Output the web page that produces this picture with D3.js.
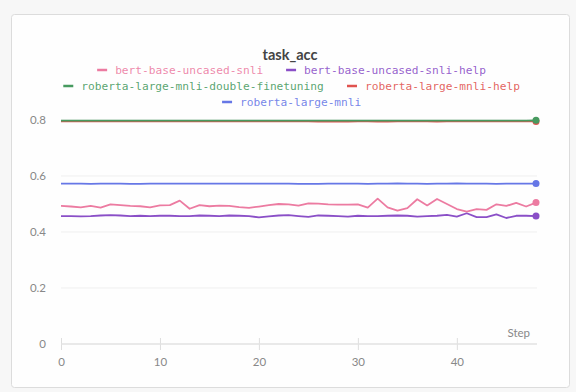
<!DOCTYPE html>
<html>
<head>
<meta charset="utf-8">
<script src="https://cdn.jsdelivr.net/npm/d3@7"></script>
<style>
  html, body { margin: 0; padding: 0; background: #f7f7f7; }
  svg { display: block; }
</style>
</head>
<body>
<svg id="chart"></svg>
<script>
// values, one per step (0..48)
const steps = d3.range(0, 49);

const bertSnli = [
  0.493, 0.491, 0.488, 0.493, 0.487, 0.499, 0.496, 0.493, 0.492, 0.488,
  0.495, 0.496, 0.512, 0.483, 0.496, 0.492, 0.494, 0.493, 0.489, 0.486,
  0.491, 0.496, 0.500, 0.499, 0.494, 0.502, 0.501, 0.499, 0.498, 0.498,
  0.499, 0.487, 0.519, 0.488, 0.476, 0.485, 0.517, 0.495, 0.518, 0.500,
  0.482, 0.473, 0.482, 0.479, 0.499, 0.493, 0.504, 0.491, 0.505
];

const bertSnliHelp = [
  0.457, 0.457, 0.456, 0.457, 0.459, 0.460, 0.459, 0.457, 0.458, 0.457,
  0.458, 0.458, 0.457, 0.457, 0.459, 0.458, 0.457, 0.459, 0.458, 0.457,
  0.452, 0.456, 0.459, 0.460, 0.457, 0.454, 0.459, 0.458, 0.457, 0.455,
  0.458, 0.457, 0.457, 0.458, 0.459, 0.458, 0.455, 0.457, 0.458, 0.461,
  0.455, 0.467, 0.453, 0.453, 0.463, 0.450, 0.458, 0.458, 0.457
];

const robertaDouble = [
  0.798, 0.798, 0.798, 0.798, 0.798, 0.798, 0.798, 0.798, 0.798, 0.798,
  0.798, 0.798, 0.798, 0.798, 0.798, 0.798, 0.798, 0.798, 0.798, 0.798,
  0.798, 0.798, 0.798, 0.798, 0.798, 0.798, 0.798, 0.798, 0.798, 0.798,
  0.798, 0.798, 0.798, 0.798, 0.798, 0.798, 0.798, 0.798, 0.798, 0.798,
  0.798, 0.798, 0.798, 0.798, 0.798, 0.798, 0.798, 0.798, 0.799
];

const robertaHelp = [
  0.795, 0.795, 0.795, 0.795, 0.795, 0.795, 0.795, 0.795, 0.795, 0.795,
  0.795, 0.795, 0.795, 0.795, 0.795, 0.795, 0.795, 0.795, 0.795, 0.795,
  0.795, 0.795, 0.795, 0.795, 0.795, 0.795, 0.794, 0.795, 0.794, 0.794,
  0.795, 0.795, 0.794, 0.794, 0.795, 0.795, 0.795, 0.795, 0.794, 0.795,
  0.795, 0.795, 0.795, 0.795, 0.795, 0.795, 0.795, 0.795, 0.795
];

const robertaMnli = [
  0.573, 0.573, 0.573, 0.572, 0.573, 0.573, 0.573, 0.572, 0.572, 0.573,
  0.573, 0.573, 0.573, 0.573, 0.573, 0.573, 0.573, 0.573, 0.573, 0.573,
  0.573, 0.573, 0.573, 0.573, 0.572, 0.572, 0.572, 0.573, 0.573, 0.573,
  0.573, 0.572, 0.573, 0.573, 0.574, 0.573, 0.573, 0.572, 0.573, 0.573,
  0.574, 0.573, 0.573, 0.573, 0.572, 0.573, 0.573, 0.573, 0.573
];

const seriesNames = [
  "bert-base-uncased-snli",
  "bert-base-uncased-snli-help",
  "roberta-large-mnli-double-finetuning",
  "roberta-large-mnli-help",
  "roberta-large-mnli"
];
const seriesValues = [bertSnli, bertSnliHelp, robertaDouble, robertaHelp, robertaMnli];
const seriesColors = ["#ec7ba1", "#8a4fc7", "#479a5f", "#e0534f", "#6677e6"];

const yTicks = [0, 0.2, 0.4, 0.6, 0.8];
const xTicks = [0, 10, 20, 30, 40];

const width = 576, height = 392;

const svg = d3.select('#chart')
    .attr('width', width)
    .attr('height', height);

// card
svg.append('rect')
    .attr('x', 11.5).attr('y', 14.5)
    .attr('width', 558).attr('height', 373)
    .attr('rx', 3)
    .style('fill', '#fefefe')
    .style('stroke', '#dcdcdc');

svg.append('text')
    .attr('x', 290).attr('y', 60)
    .attr('text-anchor', 'middle')
    .style('font-family', 'Lato, "Open Sans", sans-serif')
    .style('font-weight', 'bold')
    .style('font-size', '14.5px')
    .style('fill', '#444')
    .text('task_acc');

let x = d3.scaleLinear().domain([0, 48]).range([61, 536]);
let y = d3.scaleLinear().domain([0, 0.8]).range([344, 120]);

// grid
svg.selectAll('line.grid')
    .data(yTicks.filter(d => d > 0))
  .enter().append('line')
    .attr('class', 'grid')
    .attr('x1', 61).attr('x2', 537)
    .attr('y1', d => y(d)).attr('y2', d => y(d))
    .style('stroke', '#efefef')
    .style('stroke-width', '1px');

// y axis labels
let yAxis = d3.axisLeft(y)
    .tickValues(yTicks)
    .tickFormat(d => d === 0 ? '0' : d3.format('.1f')(d))
    .tickSize(0)
    .tickPadding(0);

let gy = svg.append('g')
    .attr('transform', 'translate(46,0)')
    .call(yAxis);
gy.select('.domain').remove();
gy.selectAll('text')
    .style('font-family', 'Lato, "Open Sans", sans-serif')
    .style('font-size', '11.5px')
    .style('fill', '#888');

// x axis
let xAxis = d3.axisBottom(x)
    .tickValues(xTicks)
    .tickSize(12)
    .tickPadding(8);

let gx = svg.append('g')
    .attr('transform', 'translate(0,338)')
    .call(xAxis);
gx.select('.domain').remove();
gx.selectAll('.tick line').style('stroke', '#dedede');
gx.selectAll('text')
    .attr('y', 20)
    .style('font-family', 'Lato, "Open Sans", sans-serif')
    .style('font-size', '11.5px')
    .style('fill', '#888');

svg.append('line')
    .attr('x1', x(0)).attr('x2', 537)
    .attr('y1', 344).attr('y2', 344)
    .style('stroke', '#e2e2e2')
    .style('stroke-width', '1.5px');

svg.append('text')
    .attr('x', 530).attr('y', 337)
    .attr('text-anchor', 'end')
    .style('font-family', 'Lato, "Open Sans", sans-serif')
    .style('font-size', '11.5px')
    .style('fill', '#888')
    .text('Step');

// lines
let line = d3.line()
    .x((d, i) => x(steps[i]))
    .y(d => y(d));

let order = [4, 1, 0, 3, 2];
order.forEach(k => {
  svg.append('path')
      .datum(seriesValues[k])
      .attr('d', line)
      .style('fill', 'none')
      .style('stroke', seriesColors[k])
      .style('stroke-width', '1.8px')
      .style('stroke-linejoin', 'round');

  let last = seriesValues[k].length - 1;
  svg.append('circle')
      .attr('cx', x(steps[last]))
      .attr('cy', y(seriesValues[k][last]))
      .attr('r', 3.5)
      .style('fill', seriesColors[k]);
});

// legend: rows of series indices, centred
let legendRows = [[0, 1], [2, 3], [4]];
let legendY = [74, 90, 106];
let charW = 6.77, swatchW = 10, swatchGap = 8, itemGap = 22, cx = 292;

legendRows.forEach((row, r) => {
  let widths = row.map(k => swatchW + swatchGap + seriesNames[k].length * charW);
  let total = d3.sum(widths) + itemGap * (row.length - 1);
  let pos = cx - total / 2;
  row.forEach((k, j) => {
    let g = svg.append('g').attr('transform', `translate(${pos},${legendY[r]})`);
    g.append('line')
        .attr('x1', 0).attr('x2', swatchW)
        .attr('y1', -4).attr('y2', -4)
        .style('stroke', seriesColors[k])
        .style('stroke-width', '2.5px');
    g.append('text')
        .attr('x', swatchW + swatchGap)
        .attr('y', 0)
        .style('font-family', '"DejaVu Sans Mono", monospace')
        .style('font-size', '11.2px')
        .style('fill', seriesColors[k])
        .style('fill-opacity', 0.9)
        .text(seriesNames[k]);
    pos += widths[j] + itemGap;
  });
});
</script>
</body>
</html>
